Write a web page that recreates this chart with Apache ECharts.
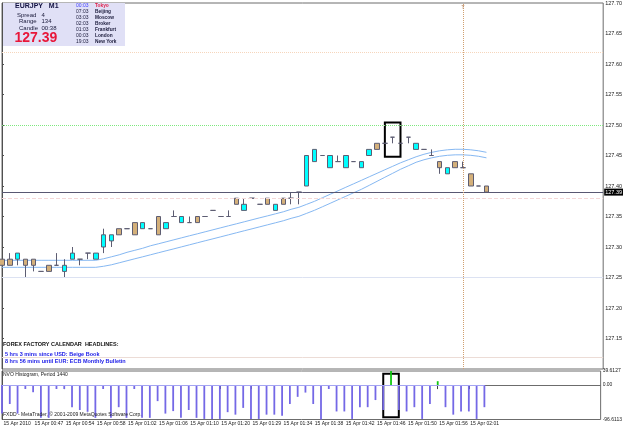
<!DOCTYPE html>
<html><head><meta charset="utf-8">
<script src="https://cdn.jsdelivr.net/npm/echarts@6/dist/echarts.min.js"></script>
<style>html,body{margin:0;padding:0;background:#fff}#c{width:625px;height:429px}</style>
</head><body><div id="c"></div>
<script>
// ---- data ----
const opens  = [127.28,127.28,127.28,127.28,127.28,127.26,127.27,127.27,127.26,127.28,127.28,127.29,127.28,127.30,127.31,127.33,127.33,127.34,127.33,127.33,127.35,127.33,127.35,127.34,127.34,127.35,127.35,127.36,127.35,127.35,127.38,127.36,127.38,127.37,127.38,127.36,127.38,127.38,127.39,127.40,127.44,127.45,127.43,127.44,127.43,127.44,127.43,127.45,127.47,127.47,127.48,127.47,127.48,127.46,127.46,127.45,127.44,127.42,127.44,127.43,127.42,127.40,127.40];
const highs  = [127.28,127.29,127.29,127.28,127.28,127.26,127.27,127.29,127.28,127.30,127.28,127.29,127.29,127.33,127.32,127.33,127.33,127.34,127.34,127.33,127.35,127.34,127.36,127.35,127.35,127.35,127.35,127.36,127.35,127.36,127.38,127.38,127.38,127.37,127.38,127.37,127.38,127.39,127.39,127.45,127.46,127.45,127.45,127.45,127.45,127.44,127.44,127.46,127.47,127.47,127.48,127.47,127.48,127.47,127.46,127.46,127.44,127.43,127.44,127.44,127.42,127.40,127.40];
const lows   = [127.27,127.27,127.27,127.25,127.26,127.26,127.26,127.27,127.25,127.28,127.27,127.28,127.28,127.29,127.30,127.32,127.33,127.32,127.33,127.33,127.32,127.33,127.35,127.34,127.34,127.34,127.35,127.36,127.35,127.35,127.37,127.36,127.38,127.37,127.37,127.36,127.37,127.37,127.37,127.40,127.44,127.45,127.43,127.44,127.43,127.44,127.43,127.45,127.46,127.47,127.47,127.47,127.47,127.46,127.46,127.45,127.42,127.42,127.43,127.43,127.40,127.40,127.39];
const closes = [127.27,127.27,127.29,127.27,127.27,127.26,127.26,127.27,127.27,127.29,127.28,127.29,127.29,127.32,127.32,127.32,127.33,127.32,127.34,127.33,127.32,127.34,127.35,127.35,127.34,127.34,127.35,127.36,127.35,127.35,127.37,127.37,127.38,127.37,127.37,127.37,127.37,127.38,127.39,127.45,127.46,127.45,127.45,127.44,127.45,127.44,127.44,127.46,127.46,127.47,127.48,127.47,127.48,127.47,127.46,127.45,127.43,127.43,127.43,127.43,127.40,127.40,127.39];
const maUpper = [127.2782,127.2782,127.2782,127.2782,127.2782,127.2782,127.2782,127.2782,127.2782,127.2782,127.2782,127.2782,127.2782,127.2807,127.2839,127.2872,127.2913,127.2946,127.2979,127.3020,127.3052,127.3085,127.3118,127.3151,127.3184,127.3216,127.3249,127.3282,127.3315,127.3348,127.3380,127.3413,127.3446,127.3479,127.3511,127.3544,127.3577,127.3618,127.3651,127.3700,127.3749,127.3807,127.3864,127.3921,127.3979,127.4036,127.4093,127.4151,127.4208,127.4266,127.4323,127.4380,127.4430,127.4479,127.4520,127.4552,127.4577,127.4593,127.4602,127.4602,127.4593,127.4577,127.4552];
const maLower = [127.2667,127.2667,127.2667,127.2667,127.2667,127.2667,127.2667,127.2667,127.2667,127.2667,127.2667,127.2667,127.2667,127.2684,127.2708,127.2741,127.2774,127.2807,127.2839,127.2872,127.2905,127.2938,127.2970,127.3003,127.3036,127.3069,127.3102,127.3134,127.3167,127.3200,127.3233,127.3266,127.3298,127.3331,127.3364,127.3397,127.3430,127.3470,127.3503,127.3552,127.3602,127.3659,127.3716,127.3774,127.3831,127.3889,127.3946,127.4011,127.4077,127.4143,127.4208,127.4274,127.4331,127.4389,127.4430,127.4462,127.4487,127.4503,127.4511,127.4511,127.4503,127.4487,127.4462];
const histValues = [-80,-53,-80,-11,-20,-92,-92,-11,-11,-62,-70,-75,-92,-11,-92,-62,-92,-11,-92,-92,-45,-80,-73,-92,-70,-92,-95,-95,-95,-76,-83,-64,-95,-95,-83,-83,-86,-53,-33,-21,-53,-96.6113,-11,-74,-74,-95,-62,-62,-42,-70,39.6127,-70,-74,-62,-95,-53,11,-62,-83,-74,-74,-95,-62];
const timeLabels = ['15 Apr 2010','15 Apr 00:47','15 Apr 00:54','15 Apr 00:58','15 Apr 01:02','15 Apr 01:06','15 Apr 01:10','15 Apr 01:20','15 Apr 01:29','15 Apr 01:34','15 Apr 01:38','15 Apr 01:42','15 Apr 01:46','15 Apr 01:50','15 Apr 01:56','15 Apr 02:01'];
const labelEvery = 4;
const priceTicks = [127.15,127.20,127.25,127.30,127.35,127.40,127.45,127.50,127.55,127.60,127.65,127.70];
const priceMin = 127.10, priceMax = 127.70;
const histMin = -96.6113, histMax = 39.6127;
const histTicks = [histMin, 0, histMax];
const bidPrice = 127.39;
const levelOrange = 127.62, levelGreen = 127.50, levelPink = 127.38, levelBlue = 127.25, levelGrey = 127.12;
const timeMarkerBar = 59;
const boxBars = [49, 51];
const boxPrices = [127.504, 127.448];
const boxHist = [32, -90];
const tMarkerPrice = 127.693;
const clockTimes = ['00:03','07:03','03:03','02:03','01:03','00:03','19:03'];
const clockCities = ['Tokyo','Beijing','Moscow','Broker','Frankfurt','London','New York'];

// ---- build ----
const idx = opens.map((_, i) => i);
const candleData = opens.map((o, i) => [i, o, closes[i], lows[i], highs[i]]);
const maUData = maUpper.map((v, i) => [i, v]);
const maLData = maLower.map((v, i) => [i, v]);
const histData = histValues.map((v, i) => [i, v]);
const xMax = 76.94;
const FF = 'Liberation Sans, DejaVu Sans, sans-serif';

const graphics = [
  {type:'rect', left:3, top:3, shape:{width:122, height:43}, style:{fill:'#e0e0f6'}, z:10},
  {type:'text', left:15, top:2.5, style:{text:'EURJPY   M1', font:'bold 7px '+FF, fill:'#101040'}, z:11},
  {type:'text', left:17, top:12.5, style:{text:'Spread', font:'6px '+FF, fill:'#202040'}, z:11},
  {type:'text', left:41.5, top:12.5, style:{text:'4', font:'6px '+FF, fill:'#202040'}, z:11},
  {type:'text', left:19, top:18.5, style:{text:'Range', font:'6px '+FF, fill:'#202040'}, z:11},
  {type:'text', left:41.5, top:18.5, style:{text:'134', font:'6px '+FF, fill:'#202040'}, z:11},
  {type:'text', left:19, top:25.5, style:{text:'Candle', font:'6px '+FF, fill:'#202040'}, z:11},
  {type:'text', left:41.5, top:25.5, style:{text:'00:38', font:'6px '+FF, fill:'#202040'}, z:11},
  {type:'text', left:14.5, top:31.5, style:{text:'127.39', font:'bold 14px '+FF, fill:'#e8173a'}, z:11},
  {type:'text', left:3, top:341.5, style:{text:'FOREX FACTORY CALENDAR  HEADLINES:', font:'bold 5.5px '+FF, fill:'#101010'}, z:11},
  {type:'text', left:5, top:351.5, style:{text:'5 hrs 3 mins since USD: Beige Book', font:'bold 5.5px '+FF, fill:'#2020e8'}, z:11},
  {type:'text', left:5, top:358.5, style:{text:'8 hrs 56 mins until EUR: ECB Monthly Bulletin', font:'bold 5.5px '+FF, fill:'#2020e8'}, z:11},
  {type:'text', left:3, top:372, style:{text:'NVO Histogram, Period 1440', font:'5px '+FF, fill:'#202020'}, z:11},
  {type:'text', left:3, top:412.5, style:{text:'FXDD - MetaTrader, \u00a9 2001-2009 MetaQuotes Software Corp.', font:'5px '+FF, fill:'#202020'}, z:11}
];
const rowY = [3.5, 9.5, 15.5, 21.5, 27.5, 33, 39];
clockTimes.forEach((t, i) => {
  graphics.push({type:'text', left:76, top:rowY[i], style:{text:t, font:'5px '+FF, fill: i===0 ? '#4040ff' : '#202040'}, z:11});
  graphics.push({type:'text', left:95, top:rowY[i], style:{text:clockCities[i], font:'bold 4.8px '+FF, fill: i===0 ? '#e0204a' : '#202040'}, z:11});
});

const chart = echarts.init(document.getElementById('c'), null, {renderer:'canvas'});
chart.setOption({
  animation:false,
  backgroundColor:'#ffffff',
  grid:[
    {left:2, top:2, width:604, height:367, show:true, borderColor:'#6c6c6c', borderWidth:1, backgroundColor:'#fff'},
    {left:2, top:371, width:604, height:48.5, show:true, borderColor:'#6c6c6c', borderWidth:1, backgroundColor:'#fff'}
  ],
  xAxis:[
    {type:'value', gridIndex:0, min:0, max:xMax, show:false},
    {type:'value', gridIndex:1, min:0, max:xMax, splitLine:{show:false},
     axisLine:{show:true, lineStyle:{color:'#6c6c6c'}},
     axisTick:{show:true, customValues: timeLabels.map((_, k) => k*labelEvery), length:4, lineStyle:{color:'#404040'}},
     axisLabel:{show:true, customValues: timeLabels.map((_, k) => k*labelEvery), formatter: v => timeLabels[Math.round(v/labelEvery)] || '',
       align:'left', margin:1.5, padding:[0,0,0,1.5], fontSize:5, fontFamily:FF, color:'#202020'}}
  ],
  yAxis:[
    {type:'value', gridIndex:0, position:'right', min:priceMin, max:priceMax, scale:true, splitLine:{show:false},
     axisLine:{show:true, lineStyle:{color:'#505050'}},
     axisTick:{show:true, customValues:priceTicks, length:2, lineStyle:{color:'#505050'}},
     axisLabel:{customValues:priceTicks, formatter: v => v.toFixed(2), fontSize:5.5, fontFamily:FF, color:'#202020', margin:2}},
    {type:'value', gridIndex:1, position:'right', min:histMin, max:histMax, splitLine:{show:false},
     axisLine:{show:true, lineStyle:{color:'#505050'}},
     axisTick:{show:false},
     axisLabel:{customValues:histTicks, formatter: v => v===0 ? '0.00' : v.toFixed(4), fontSize:5, fontFamily:FF, color:'#202020', margin:2}}
  ],
  series:[
    {type:'line', xAxisIndex:0, yAxisIndex:0, data:maUData, symbol:'none', lineStyle:{color:'#86b8f2', width:1}, z:2},
    {type:'line', xAxisIndex:0, yAxisIndex:0, data:maLData, symbol:'none', lineStyle:{color:'#86b8f2', width:1}, z:2},
    {type:'candlestick', xAxisIndex:0, yAxisIndex:0, data:candleData, barWidth:5, z:3,
     encode:{x:0, y:[1,2,3,4]},
     itemStyle:{color:'#00ffff', color0:'#d4b07a', borderColor:'#5d5d72', borderColor0:'#5d5d72', borderColorDoji:'#5d5d72', borderWidth:1},
     markLine:{silent:true, symbol:['none','none'], animation:false, label:{show:false},
       data:[
         {yAxis:levelOrange, lineStyle:{color:'#f6d6bc', type:'dotted', width:1}},
         {yAxis:levelGreen, lineStyle:{color:'#7ee87e', type:'dotted', width:1}},
         {yAxis:levelPink, lineStyle:{color:'#f4d8d8', type:'dashed', width:1}},
         {yAxis:levelBlue, lineStyle:{color:'#dce2f2', type:'solid', width:1}},
         {yAxis:levelGrey, lineStyle:{color:'#ecdcd6', type:'solid', width:1}},
         {yAxis:bidPrice, lineStyle:{color:'#585872', type:'solid', width:1},
          label:{show:true, position:'end', formatter: bidPrice.toFixed(2), backgroundColor:'#000', color:'#fff', fontSize:5.5, fontFamily:FF, padding:[1,1,0,1], distance:1}},
         {xAxis:timeMarkerBar, lineStyle:{color:'#d0a070', type:'dotted', width:1}}
       ]},
     markArea:{silent:true, itemStyle:{color:'rgba(0,0,0,0)', borderColor:'#000', borderWidth:2},
       data:[[{coord:[boxBars[0], boxPrices[0]]},{coord:[boxBars[1], boxPrices[1]]}]]},
     markPoint:{silent:true, symbol:'rect', symbolSize:0,
       data:[{coord:[timeMarkerBar, tMarkerPrice], label:{show:true, formatter:'T', position:'inside', color:'#b07850', fontSize:5, fontFamily:FF}}]}
    },
    {type:'bar', xAxisIndex:1, yAxisIndex:1, data:histData, barWidth:1.8, z:3,
     itemStyle:{color: p => p.value[1] >= 0 ? '#10c810' : '#7468e6'},
     markLine:{silent:true, symbol:['none','none'], label:{show:false}, lineStyle:{color:'#a4a4f2', type:'solid', width:1},
       data:[[{coord:[idx[0],0]},{coord:[idx[idx.length-1],0]}]]},
     markArea:{silent:true, itemStyle:{color:'rgba(0,0,0,0)', borderColor:'#000', borderWidth:2},
       data:[[{coord:[boxBars[0], boxHist[0]]},{coord:[boxBars[1], boxHist[1]]}]]}
    }
  ],
  graphic: graphics
});
</script></body></html>
